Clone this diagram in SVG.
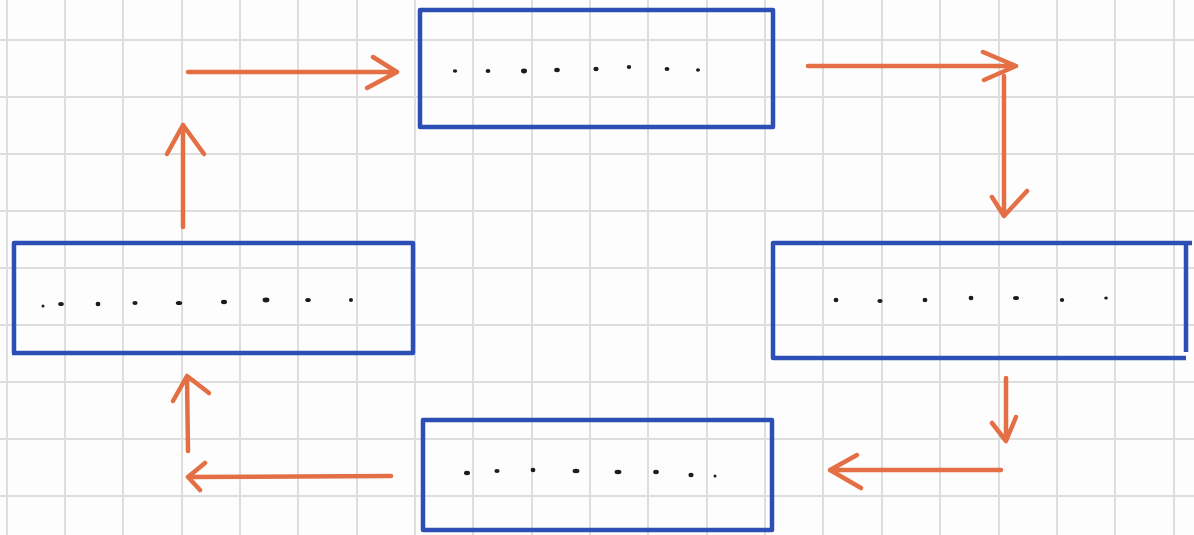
<svg xmlns="http://www.w3.org/2000/svg" width="1194" height="535" viewBox="0 0 1194 535">
<defs>
<style>
.grid line{stroke:#dedede;stroke-width:2}
.box{fill:none;stroke:#2d4fb5;stroke-width:4.5;stroke-linejoin:round}
.arr{fill:none;stroke:#e46f45;stroke-width:4.5;stroke-linecap:round;stroke-linejoin:round}
.dot{fill:#1c1c1c}
</style>
</defs>
<rect width="1194" height="535" fill="#fdfdfd"/>
<g class="grid">
<line x1="7" y1="0" x2="7" y2="535"/><line x1="65" y1="0" x2="65" y2="535"/><line x1="123" y1="0" x2="123" y2="535"/><line x1="182" y1="0" x2="182" y2="535"/><line x1="240" y1="0" x2="240" y2="535"/><line x1="298" y1="0" x2="298" y2="535"/><line x1="357" y1="0" x2="357" y2="535"/><line x1="415" y1="0" x2="415" y2="535"/><line x1="473" y1="0" x2="473" y2="535"/><line x1="532" y1="0" x2="532" y2="535"/><line x1="590" y1="0" x2="590" y2="535"/><line x1="648" y1="0" x2="648" y2="535"/><line x1="707" y1="0" x2="707" y2="535"/><line x1="765" y1="0" x2="765" y2="535"/><line x1="823" y1="0" x2="823" y2="535"/><line x1="882" y1="0" x2="882" y2="535"/><line x1="940" y1="0" x2="940" y2="535"/><line x1="999" y1="0" x2="999" y2="535"/><line x1="1057" y1="0" x2="1057" y2="535"/><line x1="1115" y1="0" x2="1115" y2="535"/><line x1="1174" y1="0" x2="1174" y2="535"/>
<line x1="0" y1="40" x2="1194" y2="40"/><line x1="0" y1="97" x2="1194" y2="97"/><line x1="0" y1="154" x2="1194" y2="154"/><line x1="0" y1="211" x2="1194" y2="211"/><line x1="0" y1="268" x2="1194" y2="268"/><line x1="0" y1="325" x2="1194" y2="325"/><line x1="0" y1="382" x2="1194" y2="382"/><line x1="0" y1="439" x2="1194" y2="439"/><line x1="0" y1="496" x2="1194" y2="496"/>
</g>
<g id="node-top">
<rect class="box" x="420" y="10" width="353" height="117"/>
<ellipse class="dot" cx="455" cy="71" rx="2.2" ry="1.8"/><ellipse class="dot" cx="488" cy="71" rx="2.4" ry="2"/><ellipse class="dot" cx="524" cy="71" rx="3" ry="2.4"/><ellipse class="dot" cx="557" cy="70" rx="2.8" ry="2.2"/><ellipse class="dot" cx="596" cy="69" rx="2.6" ry="2.2"/><ellipse class="dot" cx="629" cy="67" rx="2.2" ry="2"/><ellipse class="dot" cx="667" cy="69" rx="2.4" ry="2"/><ellipse class="dot" cx="698" cy="70" rx="2" ry="1.8"/>
</g>
<g id="node-left">
<path class="box" d="M14,353 L14,243 L413,243 L413,353 L12,353"/>
<ellipse class="dot" cx="43" cy="306" rx="1.5" ry="1.5"/><ellipse class="dot" cx="61" cy="304" rx="2.8" ry="2"/><ellipse class="dot" cx="98" cy="304" rx="2.4" ry="2.2"/><ellipse class="dot" cx="135" cy="303" rx="2.6" ry="2"/><ellipse class="dot" cx="179" cy="303" rx="3.2" ry="2"/><ellipse class="dot" cx="224" cy="302" rx="3" ry="2.2"/><ellipse class="dot" cx="266" cy="300" rx="3.4" ry="2.4"/><ellipse class="dot" cx="308" cy="300" rx="2.8" ry="2"/><ellipse class="dot" cx="351" cy="300" rx="2" ry="2"/>
</g>
<g id="node-right">
<path class="box" d="M1192,243 L773,243 L773,358 L1186,358 M1186,245 L1186,352"/>
<ellipse class="dot" cx="836" cy="300" rx="2.4" ry="2.2"/><ellipse class="dot" cx="880" cy="301" rx="2.6" ry="2"/><ellipse class="dot" cx="925" cy="300" rx="2.4" ry="2.2"/><ellipse class="dot" cx="971" cy="298" rx="2.4" ry="2.2"/><ellipse class="dot" cx="1016" cy="298" rx="3" ry="2"/><ellipse class="dot" cx="1062" cy="300" rx="2.2" ry="2"/><ellipse class="dot" cx="1106" cy="298" rx="1.8" ry="1.6"/>
</g>
<g id="node-bottom">
<rect class="box" x="423" y="420" width="349" height="110"/>
<ellipse class="dot" cx="467" cy="473" rx="3" ry="2.2"/><ellipse class="dot" cx="497" cy="471" rx="2.6" ry="2"/><ellipse class="dot" cx="533" cy="470" rx="2.4" ry="2.2"/><ellipse class="dot" cx="576" cy="471" rx="3.4" ry="2.2"/><ellipse class="dot" cx="618" cy="472" rx="3.4" ry="2.2"/><ellipse class="dot" cx="656" cy="472" rx="2.8" ry="2.2"/><ellipse class="dot" cx="691" cy="475" rx="2.6" ry="2.2"/><ellipse class="dot" cx="715" cy="476" rx="1.5" ry="1.5"/>
</g>
<g id="connectors">
<path class="arr" d="M188,72 L397,72 M373,57 L397,72 L367,88"/>
<path class="arr" d="M183,227 L183,125 M167,154 L183,125 L204,154"/>
<path class="arr" d="M808,66 L1016,66 M983,52 L1016,66 L984,80"/>
<path class="arr" d="M1004,76 L1004,216 M992,197 L1004,216 L1027,191"/>
<path class="arr" d="M1006,378 L1006,441 M992,423 L1006,441 L1016,417"/>
<path class="arr" d="M1001,470 L830,470 M857,455 L830,470 L861,488"/>
<path class="arr" d="M391,476 L188,477 M205,463 L188,477 L200,490"/>
<path class="arr" d="M188,451 L187,376 M173,401 L187,376 L209,393"/>
</g>
</svg>
